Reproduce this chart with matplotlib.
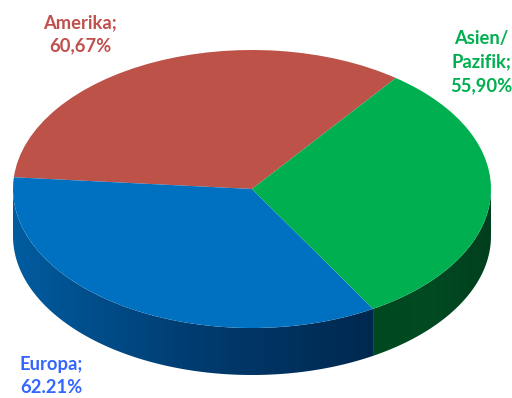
#!/usr/bin/env python3
'''
Tilted pie chart with a shaded rim.
'''
### MODULES ---
import numpy as np
import matplotlib
matplotlib.use('Agg')
import matplotlib.pyplot as plt
from matplotlib.colors import LinearSegmentedColormap
from matplotlib.patches import Polygon


### DATA ---
regions = ['Amerika', 'Europa', 'Asien/Pazifik']
shares = [60.67, 62.21, 55.90]
shareLabels = ['Amerika;\n60,67%', 'Europa;\n62.21%', 'Asien/\nPazifik;\n55,90%']


### FORMATTING ---
W, H = 512, 398
cx, cy = 252, 189      # pie center, pixels
rx, ry = 239, 139      # pie radii, pixels
depth = 47/ry          # rim height in units of the vertical radius

topColors = ['#BD5249', '#0070C0', '#00B050']
textColors = ['#C0504D', '#3366FF', '#00B050']
blueRim = ['#005CA0', '#003C70', '#00284F']
greenRim = ['#00481F', '#004A22', '#003F1E']

plt.rcParams['font.family'] = ['Lato', 'DejaVu Sans']


### PLOT ---
fig = plt.figure(figsize=(W/100, H/100), dpi=100)
ax = fig.add_axes([0, 0, 1, 1])

# Top face
startAngle = 53
ax.pie(shares, colors=topColors, startangle=startAngle, radius=1,
       wedgeprops={'linewidth': 0, 'zorder': 3})

# Pie sets an equal aspect; the tilt comes from unequal axis scales
xlim = (-cx/rx, (W - cx)/rx)
ylim = ((cy - H)/ry, cy/ry)


# Rim: a horizontal gradient clipped to the outline of the arc
def draw_rim(theta1, theta2, colors):
    th = np.radians(np.linspace(theta1, theta2, 200))
    xs = np.cos(th)
    ys = np.sin(th)
    outline = np.column_stack([np.r_[xs, xs[::-1]],
                               np.r_[ys, ys[::-1] - depth]])
    patch = Polygon(outline, closed=True, transform=ax.transData,
                    facecolor='none', edgecolor='none')
    ax.add_patch(patch)

    cmap = LinearSegmentedColormap.from_list('rim', colors)
    extent = [xs.min(), xs.max(), ys.min() - depth, ys.max()]
    im = ax.imshow(np.linspace(0, 1, 256).reshape(1, -1), cmap=cmap, extent=extent,
                   aspect='auto', zorder=2, interpolation='bilinear')
    im.set_clip_path(patch)


boundary = startAngle + 360*(shares[0] + shares[1])/sum(shares)
draw_rim(180, boundary, blueRim)
draw_rim(boundary, 360, greenRim)

ax.set_aspect('auto')
ax.set_xlim(*xlim)
ax.set_ylim(*ylim)
ax.axis('off')

# Labels
labelPos = [(80, 34), (51, 376), (481, 62)]
for label, color, (px, py) in zip(shareLabels, textColors, labelPos):
    ax.text(px/W, 1 - py/H, label, transform=ax.transAxes, color=color,
            fontsize=13.2, fontweight='bold', ha='center', va='center',
            linespacing=1.45)

fig.savefig('out.png', dpi=100)
